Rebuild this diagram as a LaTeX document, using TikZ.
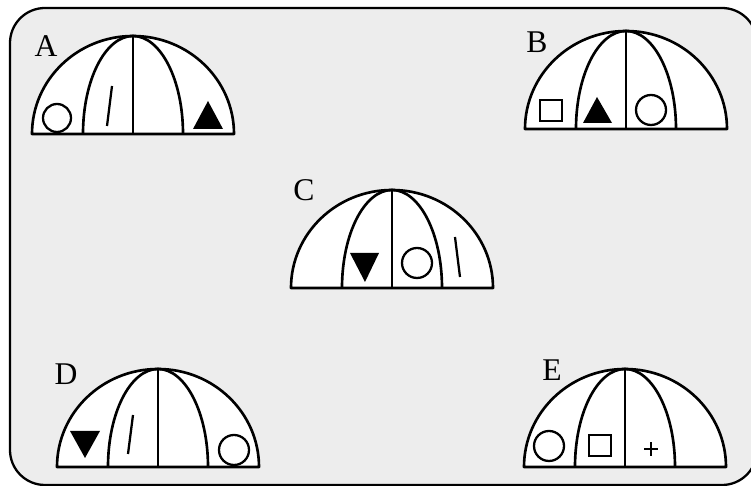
\documentclass[tikz,border=0pt]{standalone}
\usepackage{fontspec}
\setmainfont{Liberation Serif}
\usepackage{tikz}
\usetikzlibrary{positioning}

\begin{document}
\begin{tikzpicture}[
    x=0.02cm, y=0.02cm,
    frame/.style={draw, line width=1.3pt, fill=black!7, rounded corners=0.7cm},
    dome/.style={draw, line width=1.5pt, fill=white, line join=round},
    seam/.style={line width=1.5pt},
    sym/.style={draw, line width=1.3pt},
    filled/.style={fill=black},
    letter/.style={font=\fontsize{18}{18}\selectfont, inner sep=0pt}
]
    \useasboundingbox (0,0) rectangle (751,486);
    \clip (0,0) rectangle (751,486);
    \draw[frame] (10,1) rectangle (757,478);

    % domes: centre x / base y / label position / letter
    \foreach \cx/\by/\lx/\ly/\name in {133/352/46/440/A, 626/357/537/444/B, 392/198/304/296/C, 158/19/66/112/D, 625/19/552/116/E}{
        \filldraw[dome] (\cx-101,\by) arc[start angle=180, end angle=0, x radius=101, y radius=98] -- cycle;
        \draw[seam] (\cx,\by) -- (\cx,\by+98);
        \draw[seam] (\cx-50,\by) arc[start angle=180, end angle=90, x radius=50, y radius=98];
        \draw[seam] (\cx+50,\by) arc[start angle=0, end angle=90, x radius=50, y radius=98];
        \node[letter] (lab\name) at (\lx,\ly) {\name};
    }

    % A
    \draw[sym] (57,368) circle[radius=14];
    \draw[sym] (112,400) -- (107,360);
    \fill[filled] (208,385) -- (193,357) -- (223,357) -- cycle;
    % B
    \draw[sym] (540,365) rectangle (562,386);
    \fill[filled] (597,389) -- (583,363) -- (612,363) -- cycle;
    \draw[sym] (651,376) circle[radius=15];
    % C
    \fill[filled] (350,233) -- (379,233) -- (365,204) -- cycle;
    \draw[sym] (417,223) circle[radius=15];
    \draw[sym] (455,249) -- (460,209);
    % D
    \fill[filled] (70,55) -- (100,55) -- (85,28) -- cycle;
    \draw[sym] (133,71) -- (128,32);
    \draw[sym] (234,36) circle[radius=15];
    % E
    \draw[sym] (549,40) circle[radius=15];
    \draw[sym] (589,30) rectangle (611,51);
    \draw[sym] (644,37) -- (658,37) (651,30) -- (651,44);
\end{tikzpicture}
\end{document}
